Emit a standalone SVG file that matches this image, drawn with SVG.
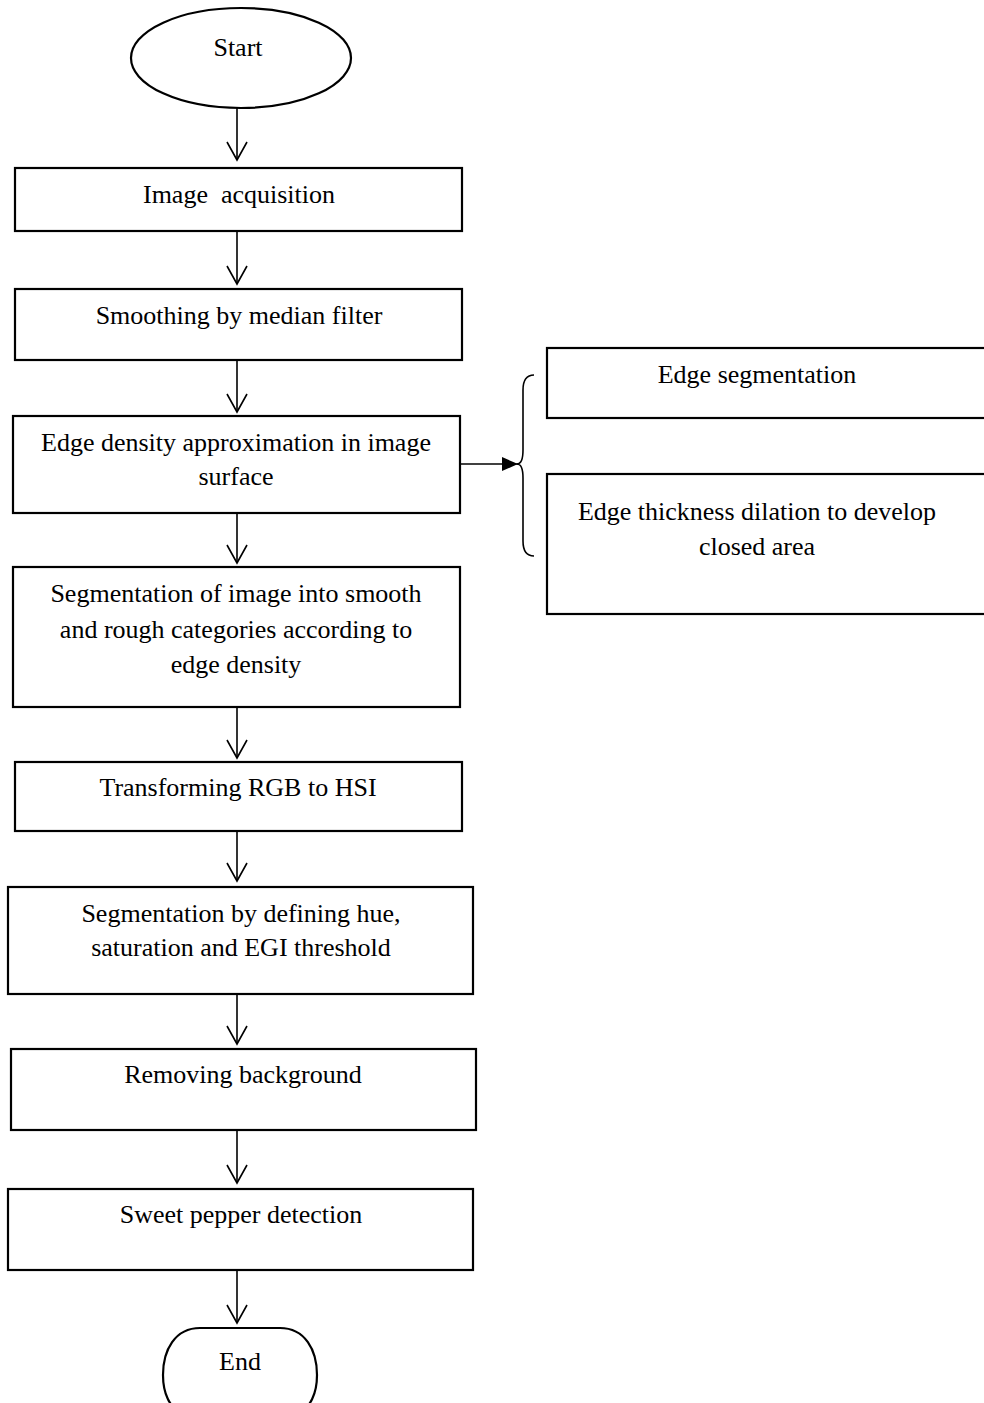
<svg xmlns="http://www.w3.org/2000/svg" width="984" height="1403" viewBox="0 0 984 1403" font-family="'Liberation Serif', 'Times New Roman', serif">
<defs>
<style>
.box{fill:#fff;stroke:#000;stroke-width:2.2}
.t{font-family:'Liberation Serif','Times New Roman',serif;font-size:26px;fill:#000;text-anchor:middle;white-space:pre}
.c{fill:none;stroke:#000;stroke-width:1.6}
</style>
<marker id="open" markerWidth="22" markerHeight="24" refX="19" refY="11" orient="auto" markerUnits="userSpaceOnUse">
<path d="M1,1 L19,11 L1,21" fill="none" stroke="#000" stroke-width="1.6"/>
</marker>
<marker id="fill" markerWidth="18" markerHeight="14" refX="16" refY="7" orient="auto" markerUnits="userSpaceOnUse">
<path d="M0,0 L16,7 L0,14 Z" fill="#000"/>
</marker>
</defs>
<rect width="984" height="1403" fill="#fff"/>
<g id="connectors">
<line class="c" x1="237" y1="108" x2="237" y2="160" marker-end="url(#open)"/>
<line class="c" x1="237" y1="231" x2="237" y2="284" marker-end="url(#open)"/>
<line class="c" x1="237" y1="360" x2="237" y2="412" marker-end="url(#open)"/>
<line class="c" x1="237" y1="513" x2="237" y2="563" marker-end="url(#open)"/>
<line class="c" x1="237" y1="707" x2="237" y2="758" marker-end="url(#open)"/>
<line class="c" x1="237" y1="831" x2="237" y2="881" marker-end="url(#open)"/>
<line class="c" x1="237" y1="994" x2="237" y2="1044" marker-end="url(#open)"/>
<line class="c" x1="237" y1="1130" x2="237" y2="1183" marker-end="url(#open)"/>
<line class="c" x1="237" y1="1270" x2="237" y2="1323" marker-end="url(#open)"/>
<line class="c" x1="460" y1="464" x2="518" y2="464" marker-end="url(#fill)"/>
<path class="c" d="M534,375 Q523,375 523,390 L523,450 Q523,464 517,464 Q523,464 523,478 L523,541 Q523,556 534,556"/>
</g>
<g id="start">
<ellipse class="box" cx="241" cy="58" rx="110" ry="50"/>
<text class="t" x="238" y="56">Start</text>
</g>
<g id="n1">
<rect class="box" x="15" y="168" width="447" height="63"/>
<text class="t" x="239" y="203">Image  acquisition</text>
</g>
<g id="n2">
<rect class="box" x="15" y="289" width="447" height="71"/>
<text class="t" x="239" y="324">Smoothing by median filter</text>
</g>
<g id="n3">
<rect class="box" x="13" y="416" width="447" height="97"/>
<text class="t" x="236" y="451">Edge density approximation in image</text>
<text class="t" x="236" y="485">surface</text>
</g>
<g id="n4">
<rect class="box" x="13" y="567" width="447" height="140"/>
<text class="t" x="236" y="602">Segmentation of image into smooth</text>
<text class="t" x="236" y="638">and rough categories according to</text>
<text class="t" x="236" y="673">edge density</text>
</g>
<g id="n5">
<rect class="box" x="15" y="762" width="447" height="69"/>
<text class="t" x="238" y="796">Transforming RGB to HSI</text>
</g>
<g id="n6">
<rect class="box" x="8" y="887" width="465" height="107"/>
<text class="t" x="241" y="922">Segmentation by defining hue,</text>
<text class="t" x="241" y="956">saturation and EGI threshold</text>
</g>
<g id="n7">
<rect class="box" x="11" y="1049" width="465" height="81"/>
<text class="t" x="243" y="1083">Removing background</text>
</g>
<g id="n8">
<rect class="box" x="8" y="1189" width="465" height="81"/>
<text class="t" x="241" y="1223">Sweet pepper detection</text>
</g>
<g id="end">
<path class="box" d="M200,1328 L280,1328 C305,1328 317,1350 317,1375 C317,1395 310,1405 300,1415 L180,1415 C170,1405 163,1395 163,1375 C163,1350 175,1328 200,1328 Z"/>
<text class="t" x="240" y="1370">End</text>
</g>
<g id="r1">
<rect class="box" x="547" y="348" width="450" height="70"/>
<text class="t" x="757" y="383">Edge segmentation</text>
</g>
<g id="r2">
<rect class="box" x="547" y="474" width="450" height="140"/>
<text class="t" x="757" y="520">Edge thickness dilation to develop</text>
<text class="t" x="757" y="555">closed area</text>
</g>
</svg>
